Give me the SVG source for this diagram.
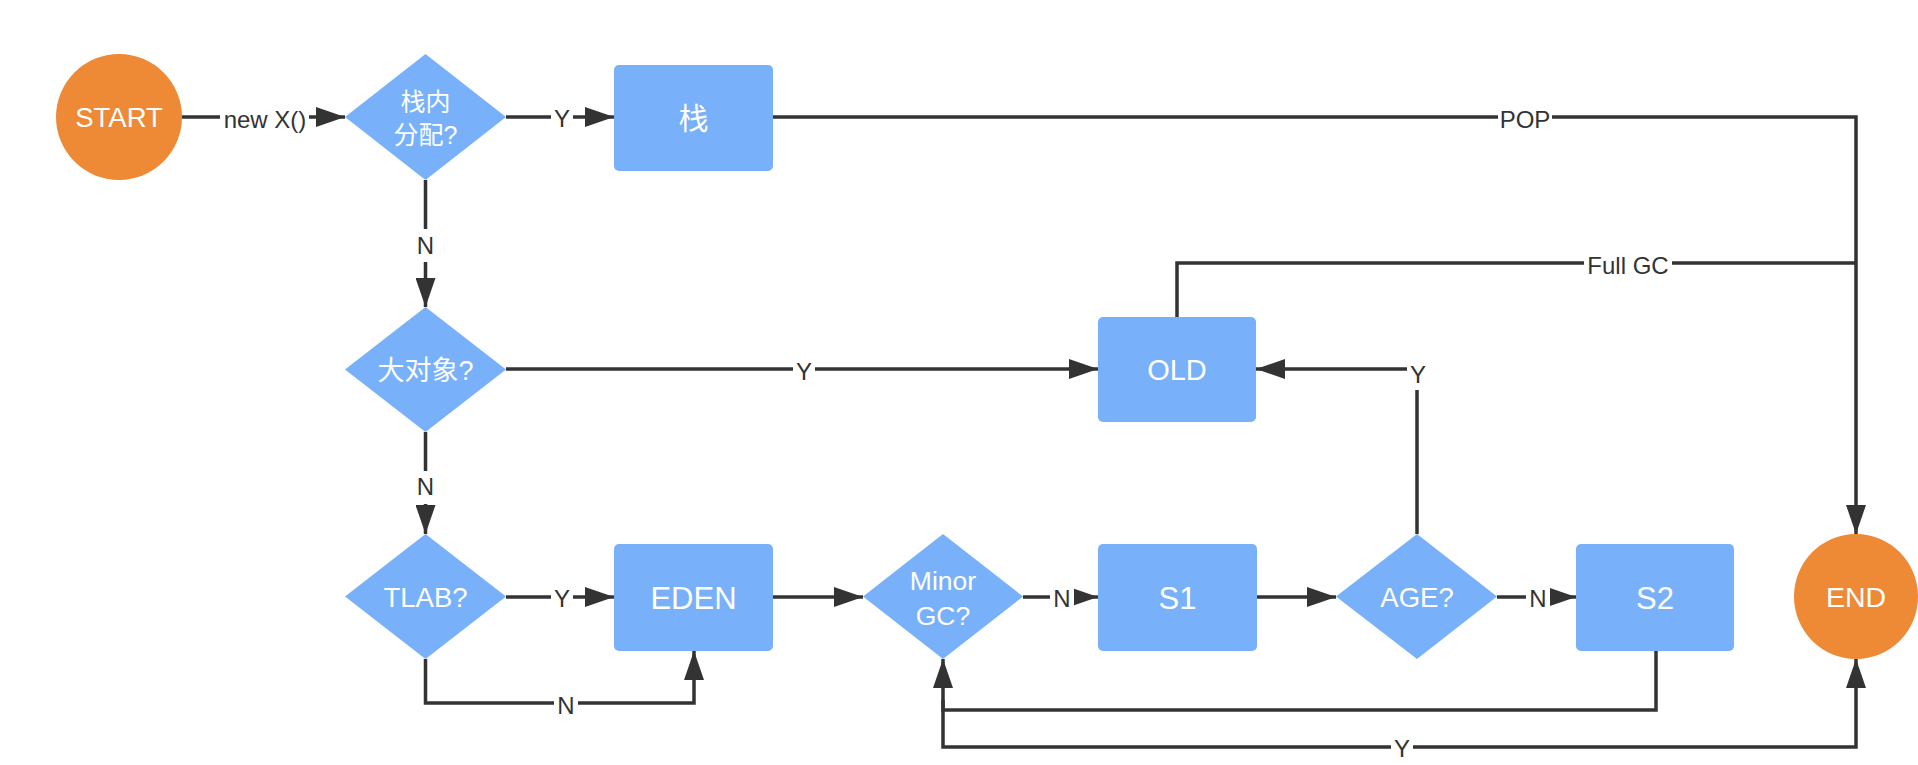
<svg xmlns="http://www.w3.org/2000/svg" width="1918" height="765" viewBox="0 0 1918 765">
<style>
.term{fill:#EE8936}
.box{fill:#78B1F9}
.dec{fill:#78B1F9}
.nt{fill:#FFFFFF;font-family:"Liberation Sans","Noto Sans CJK SC",sans-serif;text-anchor:middle}
.edge{fill:none;stroke:#333333;stroke-width:3.5}
.lbl{fill:#333333;font-family:"Liberation Sans","Noto Sans CJK SC",sans-serif;font-size:24px;text-anchor:middle}
.bg{fill:#FFFFFF}
</style>
<defs>
<marker id="arr" markerUnits="userSpaceOnUse" markerWidth="29" markerHeight="20" refX="29" refY="10" orient="auto">
<path d="M0,0 L29,10 L0,20 z" fill="#333333"/>
</marker>
</defs>
<rect width="1918" height="765" fill="#FFFFFF"/>

<g id="connectors">
<path class="edge" d="M182,117 H345" marker-end="url(#arr)"/>
<path class="edge" d="M506,117 H614" marker-end="url(#arr)"/>
<path class="edge" d="M425.5,180 V307" marker-end="url(#arr)"/>
<path class="edge" d="M506,369 H1098" marker-end="url(#arr)"/>
<path class="edge" d="M425.5,432 V534" marker-end="url(#arr)"/>
<path class="edge" d="M506,597 H614" marker-end="url(#arr)"/>
<path class="edge" d="M425.5,659 V703 H694 V651" marker-end="url(#arr)"/>
<path class="edge" d="M773,597 H863" marker-end="url(#arr)"/>
<path class="edge" d="M1023,597 H1098" marker-end="url(#arr)"/>
<path class="edge" d="M1257,597 H1336" marker-end="url(#arr)"/>
<path class="edge" d="M1497,597 H1576" marker-end="url(#arr)"/>
<path class="edge" d="M1417,534 V369 H1256" marker-end="url(#arr)"/>
<path class="edge" d="M1656,651 V710 H943 V659" marker-end="url(#arr)"/>
<path class="edge" d="M943,700 V747 H1856 V659" marker-end="url(#arr)"/>
<path class="edge" d="M773,117 H1856 V534" marker-end="url(#arr)"/>
<path class="edge" d="M1177,317 V263 H1856"/>

<rect class="bg" x="220" y="105" width="89" height="26"/>
<text class="lbl" x="265" y="128">new X()</text>
<rect class="bg" x="551" y="105" width="22" height="26"/>
<text class="lbl" x="562" y="127">Y</text>
<rect class="bg" x="413" y="229" width="25" height="33"/>
<text class="lbl" x="425.5" y="254">N</text>
<rect class="bg" x="793" y="357" width="22" height="26"/>
<text class="lbl" x="804" y="380">Y</text>
<rect class="bg" x="413" y="471" width="25" height="33"/>
<text class="lbl" x="425.5" y="495">N</text>
<rect class="bg" x="551" y="585" width="22" height="26"/>
<text class="lbl" x="562" y="607">Y</text>
<rect class="bg" x="554" y="691" width="24" height="26"/>
<text class="lbl" x="566" y="714">N</text>
<rect class="bg" x="1050" y="585" width="24" height="26"/>
<text class="lbl" x="1062" y="607">N</text>
<rect class="bg" x="1526" y="585" width="24" height="26"/>
<text class="lbl" x="1538" y="607">N</text>
<rect class="bg" x="1407" y="362" width="22" height="28"/>
<text class="lbl" x="1418" y="383">Y</text>
<rect class="bg" x="1391" y="735" width="22" height="26"/>
<text class="lbl" x="1402" y="757">Y</text>
<rect class="bg" x="1498" y="105" width="54" height="26"/>
<text class="lbl" x="1525" y="128">POP</text>
<rect class="bg" x="1584" y="251" width="88" height="26"/>
<text class="lbl" x="1628" y="274">Full GC</text>
</g>

<g id="start">
<circle class="term" cx="119" cy="117" r="63"/>
<text class="nt" x="119" y="127" font-size="27.5">START</text>
</g>

<g id="stack-alloc">
<polygon class="dec" points="425.5,54 506,117 425.5,180 345,117"/>
<text class="nt" x="425.5" y="111" font-size="25">栈内</text>
<text class="nt" x="425.5" y="143.5" font-size="25">分配?</text>
</g>

<g id="stack">
<rect class="box" x="614" y="65" width="159" height="106" rx="5"/>
<text class="nt" x="693.5" y="128.5" font-size="30">栈</text>
</g>

<g id="big-object">
<polygon class="dec" points="425.5,307 506,369.5 425.5,432 345,369.5"/>
<text class="nt" x="425.5" y="379.5" font-size="27">大对象?</text>
</g>

<g id="old">
<rect class="box" x="1098" y="317" width="158" height="105" rx="5"/>
<text class="nt" x="1177" y="379.5" font-size="29">OLD</text>
</g>

<g id="tlab">
<polygon class="dec" points="425.5,534 506,596.5 425.5,659 345,596.5"/>
<text class="nt" x="425.5" y="606.5" font-size="27.5">TLAB?</text>
</g>

<g id="eden">
<rect class="box" x="614" y="544" width="159" height="107" rx="5"/>
<text class="nt" x="693.5" y="608.5" font-size="31">EDEN</text>
</g>

<g id="minor-gc">
<polygon class="dec" points="943,534 1023,596.5 943,659 863,596.5"/>
<text class="nt" x="943" y="589.5" font-size="26.5">Minor</text>
<text class="nt" x="943" y="624.5" font-size="26.5">GC?</text>
</g>

<g id="s1">
<rect class="box" x="1098" y="544" width="159" height="107" rx="5"/>
<text class="nt" x="1177.5" y="608.5" font-size="31">S1</text>
</g>

<g id="age">
<polygon class="dec" points="1417,534 1497,596.5 1417,659 1336,596.5"/>
<text class="nt" x="1417" y="606.5" font-size="27.5">AGE?</text>
</g>

<g id="s2">
<rect class="box" x="1576" y="544" width="158" height="107" rx="5"/>
<text class="nt" x="1655" y="608.5" font-size="31">S2</text>
</g>

<g id="end">
<ellipse class="term" cx="1856" cy="596.5" rx="62" ry="62.5"/>
<text class="nt" x="1856" y="606.5" font-size="28.5">END</text>
</g>
</svg>
